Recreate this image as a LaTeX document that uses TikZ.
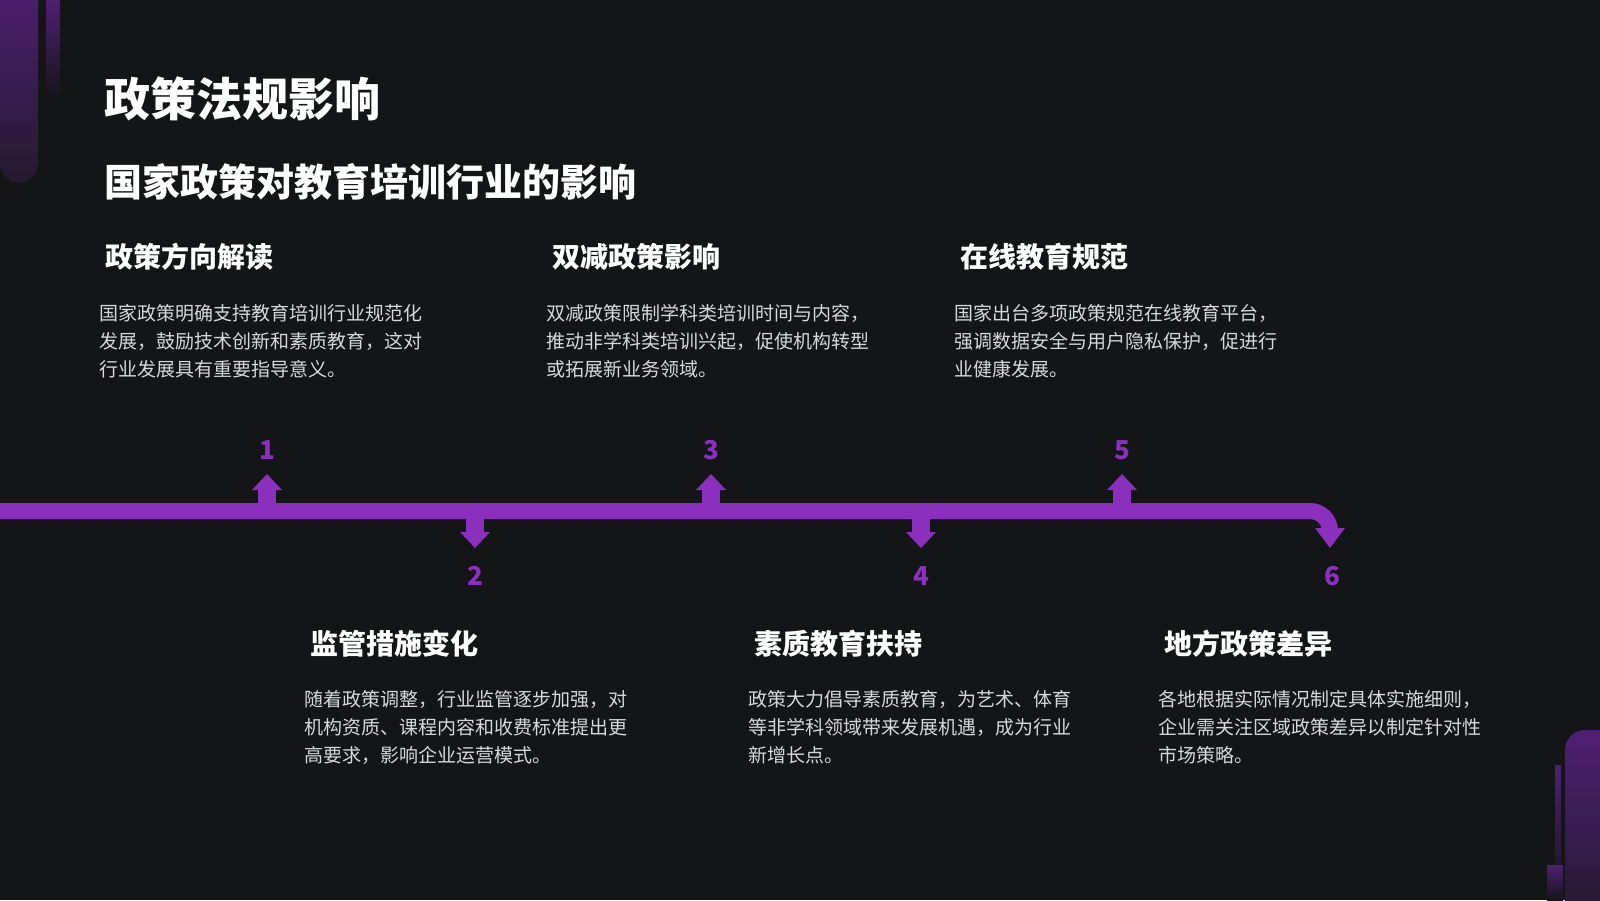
\documentclass[tikz,border=0pt]{standalone}
\usepackage{fontspec}
\setmainfont{Noto Sans CJK SC}
\usepackage{tikz}
\usetikzlibrary{calc}
\definecolor{bg}{HTML}{141517}
\definecolor{accent}{HTML}{8B2FBE}
\definecolor{deco}{HTML}{4F1F73}
\definecolor{decodark}{HTML}{241A2E}
\definecolor{bodytext}{HTML}{D8D8DC}
\def\drawbar{\draw[color=accent, line width=8pt]}
\def\headnode{\node[anchor=west,text=white,font=\fontsize{14}{17}\selectfont\bfseries]}
\def\bodynode{\node[anchor=north west,text=bodytext,align=left,font=\fontsize{9.5}{14}\selectfont]}
\def\numnode{\node[text=accent,font=\fontsize{13}{15}\selectfont\bfseries]}

\begin{document}
\begin{tikzpicture}[x=0.5pt,y=-0.5pt]
\fill[bg] (0,0) rectangle (1600,900);
\useasboundingbox (0,0) rectangle (1600,900);

% -------- corner decorations ---------
\shade[top color=deco,bottom color=decodark,rounded corners=10pt]
  (0,-20) -- (38,-20) -- (38,183) -- (0,183) -- cycle;
\fill[bg] (-20,-20) rectangle (0,200);
\shade[top color=deco,bottom color=bg] (46,0) rectangle (60,98);
\shade[top color=deco,bottom color=decodark,rounded corners=10pt]
  (1565,730) -- (1620,730) -- (1620,920) -- (1565,920) -- cycle;
\shade[top color=deco,bottom color=bg] (1555,765) rectangle (1561,900);
\shade[top color=deco,bottom color=bg] (1547,865) rectangle (1563,900);

% -------- titles ---------
\node[anchor=west,text=white,font=\fontsize{23}{27}\selectfont\bfseries] (title) at (97,99) {政策法规影响};
\node[anchor=west,text=white,font=\fontsize{19}{23}\selectfont\bfseries] (subtitle) at (97,182) {国家政策对教育培训行业的影响};

% -------- upper items ---------
\headnode (h1) at (98,257) {政策方向解读};
\bodynode (b1) at (92,297) {国家政策明确支持教育培训行业规范化\\发展，鼓励技术创新和素质教育，这对\\行业发展具有重要指导意义。};
\headnode (h3) at (545,257) {双减政策影响};
\bodynode (b3) at (539,297) {双减政策限制学科类培训时间与内容，\\推动非学科类培训兴起，促使机构转型\\或拓展新业务领域。};
\headnode (h5) at (953,257) {在线教育规范};
\bodynode (b5) at (947,297) {国家出台多项政策规范在线教育平台，\\强调数据安全与用户隐私保护，促进行\\业健康发展。};

% -------- lower items ---------
\headnode (h2) at (303,644) {监管措施变化};
\bodynode (b2) at (297,683) {随着政策调整，行业监管逐步加强，对\\机构资质、课程内容和收费标准提出更\\高要求，影响企业运营模式。};
\headnode (h4) at (747,644) {素质教育扶持};
\bodynode (b4) at (741,683) {政策大力倡导素质教育，为艺术、体育\\等非学科领域带来发展机遇，成为行业\\新增长点。};
\headnode (h6) at (1157,644) {地方政策差异};
\bodynode (b6) at (1151,683) {各地根据实际情况制定具体实施细则，\\企业需关注区域政策差异以制定针对性\\市场策略。};

% -------- timeline ---------
\coordinate (start) at (0,511);
\coordinate (turn) at (1330,532);
\drawbar[rounded corners=10pt] (start) -| (turn);
\foreach \x/\n in {267/1,711/3,1122/5}{
  \fill[accent] (\x-9,505) rectangle (\x+9,488);
  \fill[accent] (\x-15,490) -- (\x+15,490) -- (\x,474) -- cycle;
  \numnode (n\n) at (\x,450) {\n};
}
\foreach \x/\n in {475/2,921/4}{
  \fill[accent] (\x-9,517) rectangle (\x+9,534);
  \fill[accent] (\x-15,532) -- (\x+15,532) -- (\x,548) -- cycle;
  \numnode (n\n) at (\x,576) {\n};
}
\fill[accent] (1315,528) -- (1345,528) -- (1330,548) -- cycle;
\numnode (n6) at (1332,576) {6};
\end{tikzpicture}
\end{document}
